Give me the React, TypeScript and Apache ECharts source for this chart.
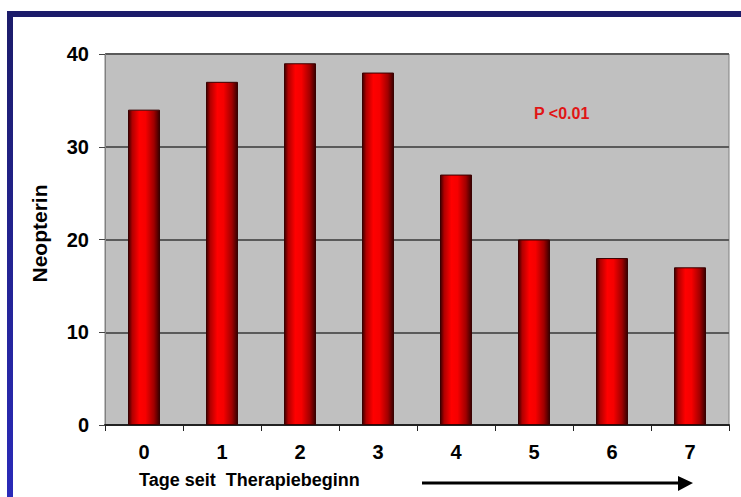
import React, { useEffect, useRef } from "react";
import * as echarts from "echarts";

const categories = ["0", "1", "2", "3", "4", "5", "6", "7"];
const neopterin = [34, 37, 39, 38, 27, 20, 18, 17];
const xTitle = "Tage seit  Therapiebeginn";
const yTitle = "Neopterin";
const pValue = "P <0.01";

export default function App() {
  const ref = useRef<HTMLDivElement>(null);
  useEffect(() => {
    if (!ref.current) return;
    const chart = echarts.init(ref.current, null, { renderer: "svg" });
    const narrow = "'Liberation Sans Narrow', 'Arial Narrow', 'Liberation Sans', sans-serif";
    const sans = "'Liberation Sans', Arial, sans-serif";
    chart.setOption({
      animation: false,
      backgroundColor: "#ffffff",
      grid: {
        left: 105,
        top: 54,
        right: 12,
        bottom: 72,
        show: true,
        backgroundColor: "#c0c0c0",
        borderColor: "#808080",
        borderWidth: 1,
      },
      xAxis: {
        type: "category",
        data: categories,
        boundaryGap: true,
        axisLine: { lineStyle: { color: "#222222", width: 2 } },
        axisTick: { show: true, alignWithLabel: false, length: 6, lineStyle: { color: "#222222", width: 1 } },
        axisLabel: { color: "#000000", fontFamily: sans, fontWeight: "bold", fontSize: 20, margin: 17 },
      },
      yAxis: {
        type: "value",
        min: 0,
        max: 40,
        interval: 10,
        name: yTitle,
        nameLocation: "middle",
        nameRotate: 90,
        nameGap: 55,
        nameTextStyle: { color: "#000000", fontFamily: sans, fontWeight: "bold", fontSize: 21, padding: [0, 0, 0, 12] },
        axisLine: { show: true, lineStyle: { color: "#808080", width: 1 } },
        axisTick: { show: true, length: 6, lineStyle: { color: "#444444" } },
        axisLabel: { color: "#000000", fontFamily: narrow, fontWeight: "bold", fontSize: 20, margin: 16 },
        splitLine: { show: true, lineStyle: { color: "#5a5a5a", width: 2 } },
      },
      series: [
        {
          type: "bar",
          data: neopterin,
          barWidth: "41%",
          itemStyle: {
            borderColor: "#3a0000",
            borderWidth: 1,
            color: new echarts.graphic.LinearGradient(0, 0, 1, 0, [
              { offset: 0, color: "#3c0000" },
              { offset: 0.12, color: "#b00000" },
              { offset: 0.35, color: "#ff0000" },
              { offset: 0.55, color: "#f60000" },
              { offset: 0.82, color: "#a00000" },
              { offset: 1, color: "#380000" },
            ]),
          },
        },
      ],
      graphic: [
        { type: "rect", shape: { x: 7, y: 11, width: 734, height: 6 }, style: { fill: "#1c1c6a" } },
        {
          type: "rect",
          shape: { x: 7, y: 11, width: 6, height: 486 },
          style: {
            fill: new echarts.graphic.LinearGradient(0, 0, 0, 1, [
              { offset: 0, color: "#1c1c6a" },
              { offset: 1, color: "#2a2ab8" },
            ]),
          },
        },
        {
          type: "text",
          x: 534,
          y: 113,
          style: { text: pValue, fill: "#e01515", fontFamily: sans, fontWeight: "bold", fontSize: 16, verticalAlign: "middle" },
        },
        {
          type: "text",
          x: 139,
          y: 480,
          style: { text: xTitle, fill: "#000000", fontFamily: sans, fontWeight: "bold", fontSize: 18, verticalAlign: "middle" },
        },
        { type: "line", shape: { x1: 422, y1: 483, x2: 680, y2: 483 }, style: { stroke: "#000000", lineWidth: 3 } },
        { type: "polygon", shape: { points: [[678, 476], [693, 483], [678, 491]] }, style: { fill: "#000000" } },
      ],
    });
    return () => chart.dispose();
  }, []);
  return <div ref={ref} style={{ position: "fixed", left: 0, top: 0, width: 741, height: 497 }} />;
}
